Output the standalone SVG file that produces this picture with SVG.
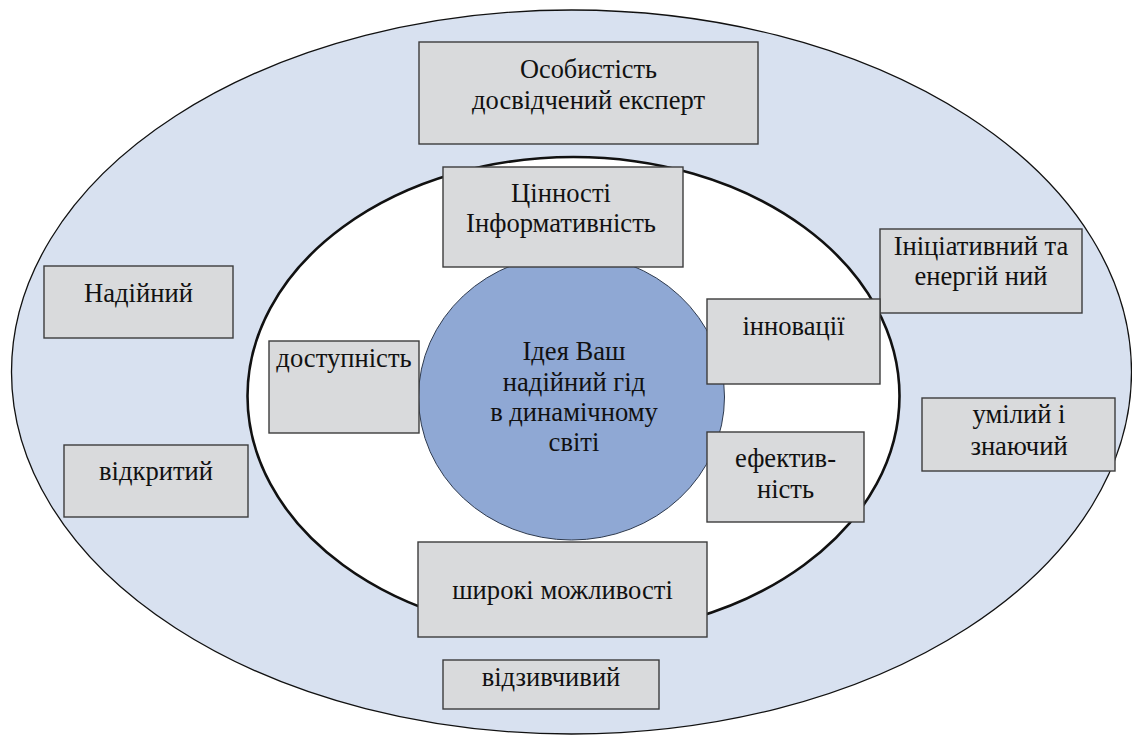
<svg xmlns="http://www.w3.org/2000/svg" width="1132" height="738" viewBox="0 0 1132 738">
  <style>
    .box { fill: #d9dadc; stroke: #3c3c3c; stroke-width: 1.4; }
    .lbl { font-family: 'Liberation Serif', 'Times New Roman', serif; font-size: 26.6px; fill: #111; text-anchor: middle; }
  </style>

  <!-- rings -->
  <g id="outer-ring">
    <ellipse cx="571.5" cy="372" rx="560" ry="362" fill="#d8e1f0" stroke="#111" stroke-width="1.3"/>
  </g>
  <g id="inner-ring">
    <ellipse cx="573.5" cy="396" rx="326" ry="239" fill="#ffffff" stroke="#111" stroke-width="2.6"/>
  </g>

  <!-- core idea -->
  <g id="idea">
    <ellipse cx="571.5" cy="397" rx="153" ry="143" fill="#8fa8d4" stroke="#2e3a4e" stroke-width="1"/>
    <text class="lbl" x="574" y="360">Ідея Ваш</text>
    <text class="lbl" x="574" y="391">надійний гід</text>
    <text class="lbl" x="574" y="421">в динамічному</text>
    <text class="lbl" x="574" y="451">світі</text>
  </g>

  <!-- outer ring: personality -->
  <g id="personality">
    <rect class="box" x="419" y="42" width="339" height="102"/>
    <text class="lbl" x="588.5" y="78" font-size="27" textLength="137" lengthAdjust="spacingAndGlyphs">Особистість</text>
    <text class="lbl" x="588.5" y="109" font-size="27" textLength="233" lengthAdjust="spacingAndGlyphs">досвідчений експерт</text>
  </g>
  <g id="reliable">
    <rect class="box" x="44" y="266" width="189" height="72"/>
    <text class="lbl" x="138.5" y="302">Надійний</text>
  </g>
  <g id="open">
    <rect class="box" x="64" y="445" width="184" height="72"/>
    <text class="lbl" x="156" y="480">відкритий</text>
  </g>
  <g id="initiative">
    <rect class="box" x="880" y="229" width="202" height="84"/>
    <text class="lbl" x="981" y="255">Ініціативний та</text>
    <text class="lbl" x="981" y="285">енергій ний</text>
  </g>
  <g id="skilled">
    <rect class="box" x="922" y="398" width="193" height="73"/>
    <text class="lbl" x="1019" y="423">умілий і</text>
    <text class="lbl" x="1019" y="455">знаючий</text>
  </g>
  <g id="responsive">
    <rect class="box" x="443" y="660" width="216" height="49"/>
    <text class="lbl" x="551" y="686">відзивчивий</text>
  </g>

  <!-- inner ring: values -->
  <g id="values">
    <rect class="box" x="443" y="167" width="240" height="100"/>
    <text class="lbl" x="561" y="202">Цінності</text>
    <text class="lbl" x="561" y="232">Інформативність</text>
  </g>
  <g id="accessibility">
    <rect class="box" x="269" y="341" width="150" height="92"/>
    <text class="lbl" x="344" y="367">доступність</text>
  </g>
  <g id="innovation">
    <rect class="box" x="707" y="299" width="173" height="85"/>
    <text class="lbl" x="793.5" y="335">інновації</text>
  </g>
  <g id="efficiency">
    <rect class="box" x="707" y="432" width="157" height="90"/>
    <text class="lbl" x="785.5" y="467">ефектив-</text>
    <text class="lbl" x="785.5" y="498">ність</text>
  </g>
  <g id="opportunities">
    <rect class="box" x="418" y="542" width="289" height="95"/>
    <text class="lbl" x="562.5" y="599">широкі можливості</text>
  </g>

  <!-- no connectors in this diagram -->
  <g id="connectors"/>
</svg>
